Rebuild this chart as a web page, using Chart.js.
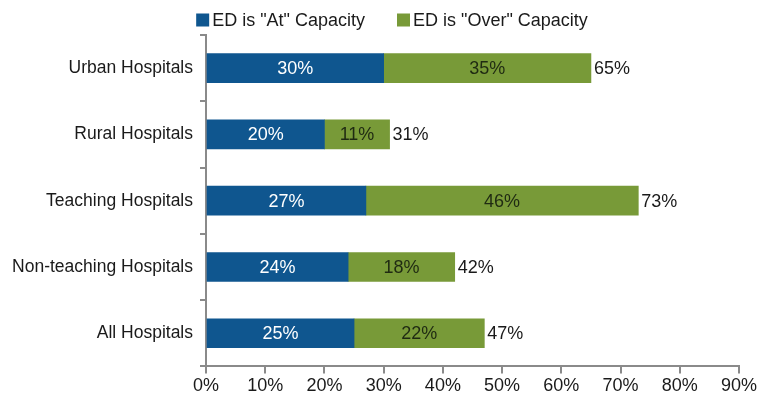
<!DOCTYPE html>
<html>
<head>
<meta charset="utf-8">
<script src="https://cdn.jsdelivr.net/npm/chart.js@4"></script>
<style>
  html, body { margin: 0; padding: 0; background: #fff; }
  #wrap { width: 759px; height: 407px; }
</style>
</head>
<body>
<div id="wrap"><canvas id="barChart" width="759" height="407"></canvas></div>
<script>
const categories = ['Urban Hospitals', 'Rural Hospitals', 'Teaching Hospitals', 'Non-teaching Hospitals', 'All Hospitals']
const atCapacity = [30, 20, 27, 24, 25]
const overCapacity = [35, 11, 46, 18, 22]
const xTicks = [0, 10, 20, 30, 40, 50, 60, 70, 80, 90]

const FONT = 'Liberation Sans, Arial, sans-serif'
const FONT_SIZE = 18

// labels inside each segment and the total at the end of the bar
const valueLabels = {
    id: 'valueLabels',
    afterDatasetsDraw(chart) {
        const ctx = chart.ctx
        ctx.save()
        ctx.font = FONT_SIZE + 'px ' + FONT
        ctx.textBaseline = 'middle'
        chart.data.datasets.forEach((ds, di) => {
            const meta = chart.getDatasetMeta(di)
            meta.data.forEach((bar, i) => {
                ctx.textAlign = 'center'
                ctx.fillStyle = di === 0 ? '#ffffff' : '#1f2a12'
                ctx.fillText(ds.data[i] + '%', (bar.base + bar.x) / 2, bar.y + 1)
                if (di === chart.data.datasets.length - 1) {
                    const total = atCapacity[i] + overCapacity[i]
                    ctx.textAlign = 'left'
                    ctx.fillStyle = '#1a1a1a'
                    ctx.fillText(total + '%', bar.x + 3, bar.y + 1)
                }
            })
        })
        ctx.restore()
    }
}

// simple legend drawn on top, spaced like the original
const topLegend = {
    id: 'topLegend',
    afterDraw(chart) {
        const ctx = chart.ctx
        const box = 13, gapText = 3, gapItem = 32
        ctx.save()
        ctx.font = FONT_SIZE + 'px ' + FONT
        ctx.textBaseline = 'middle'
        const items = chart.data.datasets.map(ds => ({ text: ds.label, color: ds.backgroundColor, w: ctx.measureText(ds.label).width }))
        let total = 0
        items.forEach((it, i) => { total += box + gapText + it.w + (i < items.length - 1 ? gapItem : 0) })
        let x = chart.width / 2 + 12.5 - total / 2
        const y = 20
        items.forEach(it => {
            ctx.fillStyle = it.color
            ctx.fillRect(x, y - box / 2, box, box)
            ctx.fillStyle = '#1a1a1a'
            ctx.textAlign = 'left'
            ctx.fillText(it.text, x + box + gapText, y + 1)
            x += box + gapText + it.w + gapItem
        })
        ctx.restore()
    }
}

const data = {
    labels: categories,
    datasets: [{
        label: 'ED is "At" Capacity',
        data: atCapacity,
        backgroundColor: '#0f568f',
        barThickness: 29
    }, {
        label: 'ED is "Over" Capacity',
        data: overCapacity,
        backgroundColor: '#789a38',
        barThickness: 29
    }]
}

const config = {
    type: 'bar',
    data,
    plugins: [valueLabels, topLegend],
    options: {
        indexAxis: 'y',
        responsive: false,
        animation: false,
        layout: { padding: { left: 0, right: 0, top: 35, bottom: 8 } },
        plugins: {
            legend: { display: false },
            tooltip: { enabled: false }
        },
        scales: {
            x: {
                stacked: true,
                min: 0,
                max: 90,
                afterBuildTicks(axis) { axis.ticks = xTicks.map(v => ({ value: v })) },
                border: { color: '#8a8a8a', width: 2 },
                grid: { drawOnChartArea: false, drawTicks: true, tickLength: 7, color: '#8a8a8a', lineWidth: 2 },
                ticks: {
                    color: '#1a1a1a',
                    font: { family: FONT, size: FONT_SIZE },
                    padding: 2,
                    maxRotation: 0,
                    callback: v => v + '%'
                }
            },
            y: {
                stacked: true,
                afterFit(axis) { axis.width = 206 },
                border: { color: '#8a8a8a', width: 2 },
                grid: { offset: true, drawOnChartArea: false, drawTicks: true, tickLength: 6, color: '#8a8a8a', lineWidth: 2 },
                ticks: {
                    color: '#1a1a1a',
                    font: { family: FONT, size: 17.5 },
                    padding: 7
                }
            }
        }
    }
}

const barChart = new Chart(document.getElementById('barChart'), config)
</script>
</body>
</html>
